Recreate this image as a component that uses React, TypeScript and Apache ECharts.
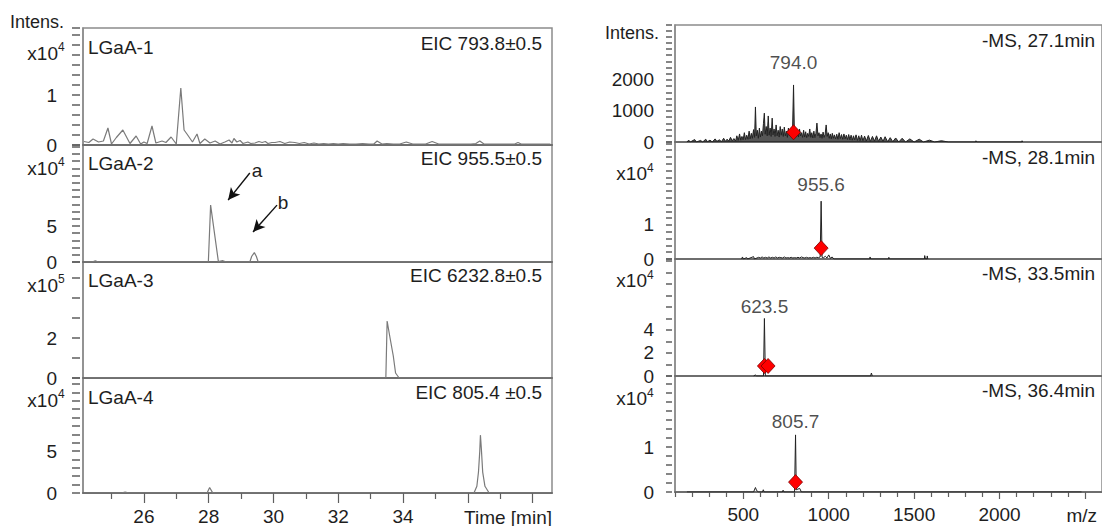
import React, { useEffect, useRef } from "react";
import * as echarts from "echarts";

// ---------- ranges ----------
const timeRange = [24.12, 38.6];
const mzRange = [100, 2600];

// ---------- left: extracted ion chromatograms [time (min), intensity] ----------
const eic1: number[][] = [
  [24.15, 700], [24.3, 500], [24.43, 1200], [24.6, 600], [24.75, 800], [24.89, 3400], [25.0, 200],
  [25.15, 1500], [25.35, 3000], [25.57, 300], [25.76, 1800], [25.9, 200], [26.0, 600], [26.1, 300],
  [26.25, 3800], [26.37, 400], [26.56, 800], [26.68, 500], [26.84, 1600], [27.0, 200], [27.14, 11400],
  [27.24, 3000], [27.33, 2200], [27.5, 600], [27.64, 2200], [27.73, 300], [27.88, 1200], [28.04, 400],
  [28.2, 800], [28.35, 200], [28.5, 600], [28.63, 1000], [28.72, 400], [28.78, 1300], [28.87, 600],
  [28.97, 900], [29.06, 300], [29.21, 600], [29.3, 300], [29.43, 400], [29.55, 700], [29.65, 500],
  [29.75, 700], [29.83, 300], [29.95, 500], [30.05, 500], [30.2, 700], [30.35, 300], [30.5, 600],
  [30.66, 500], [30.8, 300], [30.95, 500], [31.1, 200], [31.25, 400], [31.4, 200], [31.55, 300],
  [31.7, 200], [31.85, 300], [32.0, 200], [32.15, 300], [32.35, 200], [32.55, 200], [32.75, 300],
  [32.95, 200], [33.1, 200], [33.2, 800], [33.35, 200], [33.5, 300], [33.7, 200], [33.9, 200],
  [34.1, 600], [34.3, 200], [34.5, 200], [34.7, 200], [34.9, 700], [35.1, 200], [35.3, 200],
  [35.5, 200], [35.7, 200], [35.9, 200], [36.1, 200], [36.25, 300], [36.37, 800], [36.5, 200],
  [36.7, 200], [36.9, 200], [37.1, 200], [37.3, 200], [37.45, 200], [37.55, 500], [37.65, 200],
  [37.9, 200], [38.2, 200], [38.55, 200],
];
const eic2: number[][] = [
  [24.15, 0], [24.4, 0], [24.5, 1500], [24.6, 0], [27.99, 0], [28.06, 79000], [28.3, 500],
  [28.44, 1800], [28.55, 0], [29.27, 0], [29.33, 8000], [29.41, 13000], [29.47, 8000], [29.53, 0],
  [38.55, 0],
];
const eic3: number[][] = [
  [24.15, 0], [33.47, 0], [33.51, 285000], [33.6, 200000], [33.7, 110000], [33.77, 25000],
  [33.88, 0], [38.55, 0],
];
const eic4: number[][] = [
  [24.15, 0], [25.3, 0], [25.42, 1000], [25.55, 0], [27.95, 0], [28.03, 6500], [28.12, 500],
  [28.2, 0], [36.19, 0], [36.28, 8000], [36.33, 25000], [36.37, 50000], [36.39, 69000],
  [36.42, 52000], [36.46, 25000], [36.53, 8000], [36.66, 0], [38.55, 0],
];

// ---------- right: mass spectra [m/z, intensity] ----------
const ms1: number[][] = [
  [170, 0], [180, 60], [190, 0], [215, 80], [225, 0], [250, 50], [262, 0], [280, 90], [290, 10],
  [305, 60], [318, 0], [335, 100], [345, 20], [360, 70], [372, 10], [385, 120], [395, 20], [405, 90],
  [415, 30], [425, 150], [435, 40], [445, 110], [455, 30], [462, 200], [470, 50], [478, 260],
  [485, 60], [492, 180], [499, 70], [506, 300], [513, 80], [520, 220], [527, 90], [534, 350],
  [540, 100], [547, 280], [553, 120], [560, 400], [566, 150], [571, 1130], [576, 200], [582, 380],
  [588, 120], [594, 450], [600, 160], [606, 350], [612, 200], [618, 600], [623, 930], [628, 250],
  [634, 500], [640, 200], [646, 840], [651, 220], [657, 450], [663, 180], [669, 770], [674, 230],
  [680, 420], [686, 180], [692, 550], [698, 200], [704, 380], [710, 160], [716, 500], [722, 220],
  [728, 420], [734, 180], [740, 480], [746, 200], [752, 350], [758, 150], [764, 450], [770, 200],
  [776, 380], [782, 250], [788, 320], [794, 1840], [799, 300], [805, 420], [811, 180], [817, 350],
  [823, 160], [829, 420], [835, 200], [841, 300], [847, 150], [853, 380], [859, 160], [865, 330],
  [871, 140], [877, 280], [883, 180], [889, 420], [895, 150], [901, 300], [907, 130], [913, 350],
  [919, 140], [925, 280], [931, 610], [937, 200], [943, 300], [949, 140], [955, 260], [961, 120],
  [967, 320], [973, 150], [979, 250], [985, 550], [991, 180], [997, 300], [1003, 120], [1009, 260],
  [1015, 100], [1021, 280], [1027, 120], [1033, 230], [1040, 100], [1047, 250], [1054, 90],
  [1061, 300], [1068, 110], [1075, 240], [1082, 90], [1089, 260], [1096, 100], [1103, 220],
  [1110, 80], [1117, 240], [1124, 70], [1131, 220], [1138, 60], [1145, 200], [1152, 70], [1160, 230],
  [1168, 50], [1176, 200], [1184, 40], [1192, 220], [1200, 40], [1210, 190], [1220, 30], [1232, 210],
  [1244, 20], [1256, 180], [1268, 30], [1280, 200], [1292, 20], [1305, 160], [1318, 20], [1330, 170],
  [1345, 10], [1360, 140], [1375, 10], [1392, 130], [1410, 0], [1430, 120], [1450, 0], [1475, 100],
  [1500, 0], [1530, 90], [1555, 0], [1590, 60], [1620, 0], [1660, 40], [1700, 0], [1860, 0],
  [1862, 40], [1866, 0], [2130, 0], [2132, 40], [2136, 0],
];
const ms2: number[][] = [
  [490, 0], [495, 600], [500, 0], [520, 400], [525, 0], [560, 700], [565, 0], [590, 500], [600, 300],
  [610, 600], [620, 300], [630, 500], [640, 300], [650, 600], [660, 300], [670, 500], [680, 300],
  [690, 600], [700, 300], [710, 500], [720, 400], [730, 300], [740, 600], [750, 300], [760, 400],
  [770, 300], [780, 500], [790, 300], [800, 400], [810, 300], [820, 500], [830, 300], [840, 600],
  [850, 400], [860, 300], [870, 500], [880, 300], [890, 400], [900, 300], [910, 500], [920, 300],
  [930, 500], [940, 400], [950, 600], [955.6, 17000], [961, 500], [970, 400], [980, 800], [990, 300],
  [1000, 1200], [1010, 200], [1020, 600], [1030, 0], [1240, 0], [1242, 600], [1246, 0], [1350, 0],
  [1352, 500], [1356, 0], [1560, 0], [1562, 1000], [1566, 0], [1575, 0], [1577, 900], [1580, 0],
];
const ms3: number[][] = [
  [560, 0], [570, 900], [578, 0], [618, 0], [623.5, 50000], [629, 0], [1245, 0], [1250, 2600],
  [1255, 0],
];
const ms4: number[][] = [
  [170, 0], [560, 0], [571, 1000], [578, 300], [590, 0], [612, 0], [617, 500], [622, 0], [728, 0],
  [733, 400], [738, 0], [800, 0], [805.7, 12700], [810, 500], [830, 800], [840, 0], [2480, 0],
];

// ---------- annotations ----------
const eicTitles = ["LGaA-1", "LGaA-2", "LGaA-3", "LGaA-4"];
const eicLabels = ["EIC 793.8±0.5", "EIC 955.5±0.5", "EIC 6232.8±0.5", "EIC 805.4 ±0.5"];
const msLabels = ["-MS, 27.1min", "-MS, 28.1min", "-MS, 33.5min", "-MS, 36.4min"];

const eicYMax = [23400, 162500, 580000, 137200];
const eicYTickStep = [2000, 10000, 100000, 10000];
const eicYLabels = [[0, 10000], [0, 50000], [0, 200000], [0, 50000]];
const eicYScale = [1e4, 1e4, 1e5, 1e4];
const eicExp = ["4", "4", "5", "4"];

const msYMax = [3774, 34400, 101700, 25800];
const msYTickStep = [200, 2000, 10000, 2000];
const msYLabels = [[0, 1000, 2000], [0, 10000], [0, 20000, 40000], [0, 10000]];
const msYScale = [1, 1e4, 1e4, 1e4];
const msExp = ["", "4", "4", "4"];

const precursors: number[][][] = [
  [[794.0, 313]],
  [[955.6, 3200]],
  [[623.5, 8700], [645.0, 8700]],
  [[805.7, 2200]],
];
const peakLabels: number[][] = [[794.0, 2580], [955.6, 22000], [623.5, 60000], [805.7, 15600]];

// arrows on LGaA-2: [from, to] in [time, intensity]
const arrowA = [[29.27, 123600], [28.6, 86000]];
const arrowB = [[30.11, 79000], [29.37, 41700]];

const timeMinorTicks = [25, 27, 29, 31, 33, 35, 37];
const timeMajorTicks = [26, 28, 30, 32, 34, 36, 38];
const timeLabels = [26, 28, 30, 32, 34];
const mzMinorTicks = [100, 200, 300, 400, 600, 700, 800, 900, 1100, 1200, 1300, 1400, 1600, 1700,
  1800, 1900, 2100, 2200, 2300, 2400];
const mzMajorTicks = [500, 1000, 1500, 2000, 2500];
const mzLabels = [500, 1000, 1500, 2000];

// ---------- layout ----------
const FONT = "'Liberation Sans', Arial, sans-serif";
const FS = 19;
const TXT = "#1e1e1e";
const TICK = "#5e5e5e";
const leftG = { left: 83, width: 469, tops: [28, 145, 262, 378], heights: [117, 117, 116, 118] };
const rightG = { left: 675, width: 430, tops: [25, 142, 259, 376], heights: [117, 117, 117, 116] };
const leftTitleY = [47, 163, 280, 397];
const eicLabelY = [43, 158, 275, 392];
const msLabelY = [40, 157, 273, 390];
const leftExpY = [53, 168, 285, 400];
const rightExpY = [0, 173, 280, 398];

function txt(text: string, x: number, y: number, align: string, size = FS, extra: any = {}) {
  return {
    type: "text",
    x,
    y,
    silent: true,
    style: {
      text,
      fill: TXT,
      font: `${size}px ${FONT}`,
      align,
      textAlign: align,
      verticalAlign: "middle",
      textVerticalAlign: "middle",
      ...extra,
    },
  };
}

// axis carrying the tick labels (and the series)
function labelAxis(gi: number, max: number, labels: number[], scale: number, margin: number) {
  return {
    type: "value", gridIndex: gi, min: 0, max, position: "left",
    axisLine: { show: true, onZero: false, lineStyle: { color: "#8c8c8c", width: 1.5 } },
    axisTick: { show: false },
    axisLabel: {
      show: true, customValues: labels, margin, fontSize: FS, fontFamily: FONT, color: TXT,
      formatter: (v: number) => String(Math.round((v / scale) * 100) / 100),
    },
    splitLine: { show: false },
  };
}

// overlay axis on the same (left) side carrying the evenly spaced tick marks
function tickAxis(gi: number, max: number, step: number, len: number) {
  return {
    type: "value", gridIndex: gi, min: 0, max, interval: step, position: "left", offset: 3,
    axisLine: { show: false },
    axisTick: { show: true, length: len, lineStyle: { color: TICK, width: 1.5 } },
    axisLabel: { show: false },
    splitLine: { show: false },
  };
}

function buildOption() {
  const grid: any[] = [];
  const xAxis: any[] = [];
  const yAxis: any[] = [];
  const series: any[] = [];
  const graphic: any[] = [];

  const eics = [eic1, eic2, eic3, eic4];
  const specs = [ms1, ms2, ms3, ms4];

  // left panels
  for (let i = 0; i < 4; i++) {
    grid.push({
      left: leftG.left, width: leftG.width, top: leftG.tops[i], height: leftG.heights[i],
      show: true, borderColor: "#8c8c8c", borderWidth: 1.5,
    });
    const gi = grid.length - 1;
    const bottom = i === 3;
    xAxis.push({
      type: "value", gridIndex: gi, min: timeRange[0], max: timeRange[1], position: "bottom",
      axisLine: { show: true, onZero: false, lineStyle: { color: "#6e6e6e", width: 2 } },
      axisTick: bottom ? { show: true, customValues: timeMinorTicks, length: 6, lineStyle: { color: TICK, width: 1.2 } } : { show: false },
      axisLabel: { show: false }, splitLine: { show: false },
    });
    const xi = xAxis.length - 1;
    if (bottom) {
      xAxis.push({
        type: "value", gridIndex: gi, min: timeRange[0], max: timeRange[1], position: "bottom",
        axisLine: { show: false },
        axisTick: { show: true, customValues: timeMajorTicks, length: 10, lineStyle: { color: TICK, width: 1.2 } },
        axisLabel: {
          show: true, customValues: timeLabels, margin: 14, fontSize: FS, fontFamily: FONT, color: TXT,
          formatter: (v: number) => String(v),
        },
        splitLine: { show: false },
      });
    }
    yAxis.push(labelAxis(gi, eicYMax[i], eicYLabels[i], eicYScale[i], 26));
    const yi = yAxis.length - 1;
    yAxis.push(tickAxis(gi, eicYMax[i], eicYTickStep[i], 8));
    const s: any = {
      type: "line", xAxisIndex: xi, yAxisIndex: yi, data: eics[i], symbol: "none",
      lineStyle: { color: "#7a7a7a", width: 1.2 }, silent: true, z: 3,
    };
    if (i === 1) {
      s.markLine = {
        silent: true, symbol: ["none", "arrow"], symbolSize: [9, 12],
        lineStyle: { color: "#111", width: 1.4, type: "solid" },
        label: { show: false },
        data: [
          [{ coord: arrowA[0] }, { coord: arrowA[1] }],
          [{ coord: arrowB[0] }, { coord: arrowB[1] }],
        ],
      };
    }
    series.push(s);

    graphic.push(txt(eicTitles[i], 88, leftTitleY[i], "left"));
    graphic.push(txt(eicLabels[i], 542, eicLabelY[i], "right"));
    graphic.push(txt("x10", 58, leftExpY[i], "right"));
    graphic.push(txt(eicExp[i], 58, leftExpY[i] - 6, "left", 12));
  }

  // right panels
  for (let i = 0; i < 4; i++) {
    grid.push({
      left: rightG.left, width: rightG.width, top: rightG.tops[i], height: rightG.heights[i],
      show: true, borderColor: "#8c8c8c", borderWidth: 1.5,
    });
    const gi = grid.length - 1;
    const bottom = i === 3;
    xAxis.push({
      type: "value", gridIndex: gi, min: mzRange[0], max: mzRange[1], position: "bottom",
      axisLine: { show: true, onZero: false, lineStyle: { color: "#6e6e6e", width: 2 } },
      axisTick: { show: false }, axisLabel: { show: false }, splitLine: { show: false },
    });
    const xi = xAxis.length - 1;
    if (bottom) {
      xAxis.push({
        type: "value", gridIndex: gi, min: mzRange[0], max: mzRange[1], position: "bottom", offset: 2,
        axisLine: { show: false },
        axisTick: { show: true, customValues: mzMinorTicks, length: 5, lineStyle: { color: TICK, width: 1.2 } },
        axisLabel: { show: false }, splitLine: { show: false },
      });
      xAxis.push({
        type: "value", gridIndex: gi, min: mzRange[0], max: mzRange[1], position: "bottom", offset: 2,
        axisLine: { show: false },
        axisTick: { show: true, customValues: mzMajorTicks, length: 7, lineStyle: { color: TICK, width: 1.2 } },
        axisLabel: {
          show: true, customValues: mzLabels, margin: 11, fontSize: FS, fontFamily: FONT, color: TXT,
          formatter: (v: number) => String(v),
        },
        splitLine: { show: false },
      });
    }
    yAxis.push(labelAxis(gi, msYMax[i], msYLabels[i], msYScale[i], 21));
    const yi = yAxis.length - 1;
    yAxis.push(tickAxis(gi, msYMax[i], msYTickStep[i], 6));
    const line: any = {
      type: "line", xAxisIndex: xi, yAxisIndex: yi, data: specs[i], symbol: "none",
      lineStyle: { color: "#222222", width: 1 }, silent: true, z: 3,
    };
    if (i === 0) line.areaStyle = { color: "#1e1e1e", opacity: 0.75 };
    series.push(line);
    series.push({
      type: "scatter", xAxisIndex: xi, yAxisIndex: yi, data: precursors[i], symbol: "diamond",
      symbolSize: [14, 15], silent: true, z: 5,
      itemStyle: { color: "#ff0000", borderColor: "#7a0000", borderWidth: 0.8, opacity: 1 },
    });
    series.push({
      type: "scatter", xAxisIndex: xi, yAxisIndex: yi, data: [peakLabels[i]], symbolSize: 0,
      silent: true, z: 6,
      label: {
        show: true, position: "inside", fontSize: FS, fontFamily: FONT, color: TXT,
        formatter: (p: any) => p.value[0].toFixed(1),
      },
    });

    graphic.push(txt(msLabels[i], 1095, msLabelY[i], "right"));
    if (msExp[i]) {
      graphic.push(txt("x10", 647, rightExpY[i], "right"));
      graphic.push(txt(msExp[i], 647, rightExpY[i] - 5, "left", 12));
    }
  }

  graphic.push(txt("Intens.", 10, 22, "left", 18));
  graphic.push(txt("Intens.", 605, 33, "left", 18));
  graphic.push(txt("Time [min]", 552, 517, "right"));
  graphic.push(txt("m/z", 1097, 515, "right"));
  graphic.push(txt("a", 257, 170, "center"));
  graphic.push(txt("b", 283, 202, "center"));

  return {
    animation: false,
    backgroundColor: "#ffffff",
    textStyle: { fontFamily: FONT },
    grid, xAxis, yAxis, series, graphic,
  };
}

export default function App() {
  const ref = useRef<HTMLDivElement>(null);
  useEffect(() => {
    document.body.style.margin = "0";
    if (!ref.current) return;
    const chart = echarts.init(ref.current, undefined, { renderer: "svg" });
    chart.setOption(buildOption() as any);
    return () => chart.dispose();
  }, []);
  return <div ref={ref} style={{ width: 1102, height: 526, overflow: "hidden" }} />;
}
